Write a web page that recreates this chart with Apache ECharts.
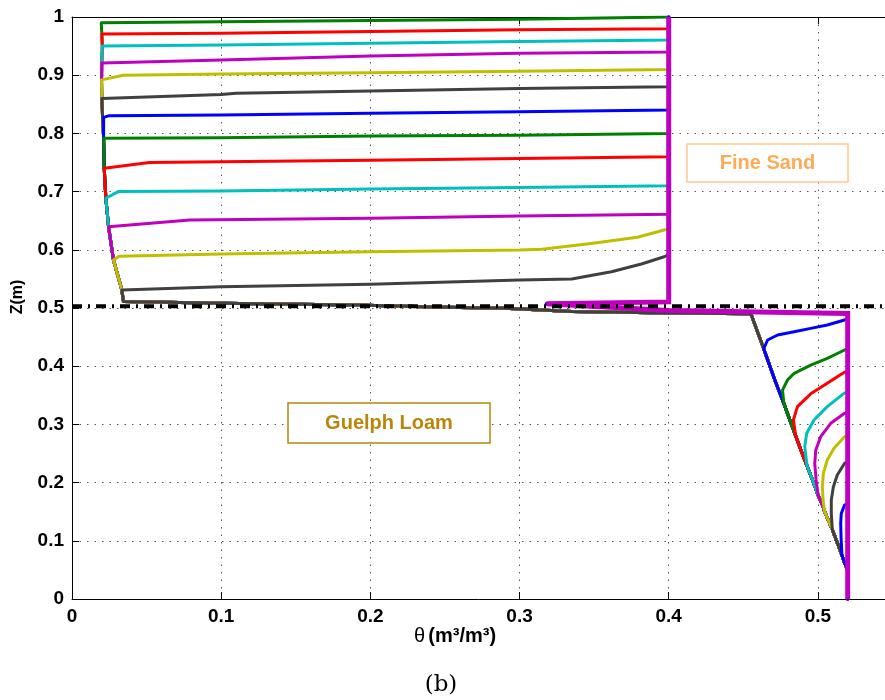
<!DOCTYPE html>
<html><head><meta charset="utf-8">
<script src="https://cdn.jsdelivr.net/npm/echarts@6/dist/echarts.min.js"></script>
<style>html,body{margin:0;padding:0;background:#fff}#c{width:885px;height:700px}</style>
</head><body><div id="c"></div>
<script>
// ---------- axes ----------
const xMin = 0, xMax = 0.545, yMin = 0, yMax = 1, tickStep = 0.1;
const interfaceLevel = 0.503;           // dash-dot layer boundary (m)

// ---------- colours (MATLAB cycle) ----------
const sandColors = ['#008000','#ff0000','#00bfbf','#bf00bf','#bfbf00','#404040','#0000ff',
                    '#008000','#ff0000','#00bfbf','#bf00bf','#bfbf00','#404040'];
const loamColors = ['#0000ff','#008000','#ff0000','#00bfbf','#bf00bf','#bfbf00','#404040','#0000ff'];
const finalColor = '#bf00bf';

// ---------- shared profile pieces [theta, z] ----------
const sandEnvelope = [[0.0196,0.990],[0.0200,0.971],[0.0203,0.950],[0.0200,0.921],[0.0198,0.892],
  [0.0200,0.860],[0.0205,0.828],[0.0212,0.7915],[0.0216,0.740],[0.0227,0.6885],[0.0245,0.6397],
  [0.0278,0.5825],[0.0334,0.531],[0.0345,0.511]];
const interfaceEdge = [[0.1,0.508],[0.19,0.505],[0.25,0.5015],[0.29,0.4995],[0.335,0.494],
  [0.4,0.4915],[0.4551,0.4900]];
const loamEnvelope = [[0.4637,0.430],[0.4712,0.376],[0.4772,0.336],[0.482,0.302],[0.4895,0.250],
  [0.4928,0.228],[0.4965,0.204],[0.5002,0.178],[0.5035,0.159],[0.5045,0.150],[0.5097,0.119],
  [0.514,0.090],[0.5161,0.075],[0.518,0.0613],[0.52,0.050],[0.52,0.0]];
const finalProfile = [[0.4,1.0],[0.4,0.5105],[0.318,0.5075],[0.40,0.4955],[0.52,0.4905],[0.52,0.0]];

// ---------- wetting fronts in the fine sand [theta, z] ----------
const sandFront01 = [[0.4,0.998],[0.3,0.996],[0.2,0.994],[0.1,0.992],[0.0196,0.990]];
const sandFront02 = [[0.4,0.980],[0.3,0.978],[0.2,0.975],[0.1,0.972],[0.0200,0.971]];
const sandFront03 = [[0.4,0.9605],[0.3,0.958],[0.2,0.955],[0.1,0.952],[0.0203,0.950]];
const sandFront04 = [[0.4,0.940],[0.3,0.9376],[0.2,0.933],[0.1,0.926],[0.0200,0.921]];
const sandFront05 = [[0.4,0.910],[0.3,0.907],[0.2,0.904],[0.1,0.902],[0.0343,0.900],[0.0198,0.892]];
const sandFront06 = [[0.4,0.880],[0.3,0.877],[0.2,0.873],[0.11,0.869],[0.1,0.867],[0.0200,0.860]];
const sandFront07 = [[0.4,0.840],[0.3,0.837],[0.2,0.8345],[0.1,0.8316],[0.025,0.8305],[0.0212,0.8276]];
const sandFront08 = [[0.4,0.800],[0.3,0.797],[0.2,0.7955],[0.1,0.7927],[0.0212,0.7915]];
const sandFront09 = [[0.4,0.760],[0.3,0.757],[0.2,0.754],[0.1,0.7514],[0.052,0.750],[0.0216,0.740]];
const sandFront10 = [[0.4,0.710],[0.3,0.707],[0.2,0.7045],[0.1,0.701],[0.031,0.700],[0.0227,0.6885]];
const sandFront11 = [[0.4,0.661],[0.3,0.658],[0.2,0.654],[0.079,0.651],[0.0245,0.6397]];
const sandFront12 = [[0.4,0.636],[0.397,0.634],[0.379,0.6215],[0.348,0.611],[0.315,0.601],[0.3,0.5997],
  [0.2,0.5968],[0.1,0.5928],[0.0316,0.589],[0.0278,0.5825]];
const sandFront13 = [[0.4,0.592],[0.397,0.588],[0.3817,0.5756],[0.3616,0.5624],[0.335,0.5498],[0.3,0.548],
  [0.2,0.541],[0.1,0.5366],[0.0334,0.531]];

// ---------- wetting fronts in the Guelph loam [theta, z] ----------
const loamFront01 = [[0.52,0.481],[0.5179,0.4794],[0.5063,0.4708],[0.4952,0.465],[0.4841,0.4593],
  [0.473,0.4536],[0.4663,0.445],[0.4637,0.430]];
const loamFront02 = [[0.52,0.429],[0.5179,0.4278],[0.5063,0.4135],[0.4952,0.402],[0.4841,0.3878],
  [0.4796,0.376],[0.4763,0.359],[0.4772,0.336]];
const loamFront03 = [[0.52,0.391],[0.5179,0.3895],[0.513,0.382],[0.5063,0.3706],[0.4952,0.3525],
  [0.4863,0.3305],[0.4836,0.3076],[0.4852,0.279],[0.4895,0.250]];
const loamFront04 = [[0.52,0.356],[0.5175,0.3534],[0.5063,0.3305],[0.4974,0.3076],[0.4925,0.2847],
  [0.4912,0.2617],[0.4928,0.228]];
const loamFront05 = [[0.52,0.321],[0.5179,0.319],[0.5086,0.3019],[0.5019,0.2789],[0.4986,0.256],
  [0.4979,0.2332],[0.4988,0.205],[0.5002,0.178]];
const loamFront06 = [[0.52,0.281],[0.5179,0.2789],[0.5108,0.2589],[0.5063,0.2388],[0.5037,0.216],
  [0.503,0.193],[0.5035,0.170],[0.5045,0.150]];
const loamFront07 = [[0.52,0.236],[0.5179,0.2332],[0.513,0.213],[0.5104,0.193],[0.509,0.170],
  [0.509,0.147],[0.5097,0.119]];
const loamFront08 = [[0.52,0.164],[0.5179,0.1615],[0.5157,0.147],[0.5153,0.130],[0.5155,0.110],
  [0.5161,0.075]];

const sandFronts = [sandFront01,sandFront02,sandFront03,sandFront04,sandFront05,sandFront06,sandFront07,
  sandFront08,sandFront09,sandFront10,sandFront11,sandFront12,sandFront13];
const loamFronts = [loamFront01,loamFront02,loamFront03,loamFront04,loamFront05,loamFront06,loamFront07,loamFront08];

// ---------- build full profiles ----------
function below(list, z) { return list.filter(p => p[1] < z - 1e-4); }
function sandProfile(front) {
  const zf = front[front.length - 1][1];
  return [[0.4, 1.0]].concat(front, below(sandEnvelope, zf), interfaceEdge, loamEnvelope);
}
function loamProfile(front) {
  const zf = front[front.length - 1][1];
  return finalProfile.slice(0, 5).concat(front, below(loamEnvelope, zf));
}

const series = [];
sandFronts.forEach((f, i) => series.push({
  type: 'line', data: sandProfile(f), symbol: 'none', lineStyle: {color: sandColors[i], width: 3, join: 'round', cap: 'round'},
  z: 2, animation: false
}));
loamFronts.forEach((f, i) => series.push({
  type: 'line', data: loamProfile(f), symbol: 'none', lineStyle: {color: loamColors[i], width: 3, join: 'round', cap: 'round'},
  z: 2, animation: false
}));
series.push({type: 'line', data: finalProfile, symbol: 'none',
  lineStyle: {color: finalColor, width: 5, join: 'miter'}, z: 3, animation: false});
series.push({type: 'line', data: [[xMin, interfaceLevel], [xMax, interfaceLevel]], symbol: 'none',
  lineStyle: {color: '#000', width: 4, type: [10, 6, 2, 6], cap: 'butt'}, z: 4, animation: false});

const FAM = 'Liberation Sans';
const labelFont = {fontFamily: FAM, fontWeight: 'bold', fontSize: 19, color: '#000'};
const fmt = v => (v === 0 ? '0' : v === 1 ? '1' : v.toFixed(1));
const dotted = {show: true, lineStyle: {color: '#555', width: 1, type: [1.5, 6]}};

const chart = echarts.init(document.getElementById('c'), null, {renderer: 'canvas'});
chart.setOption({
  backgroundColor: '#fff',
  animation: false,
  grid: {left: 72, top: 17, right: -3, bottom: 101, containLabel: false},
  xAxis: [{
    type: 'value', min: xMin, max: xMax, interval: tickStep, position: 'bottom',
    axisLine: {show: true, lineStyle: {color: '#000', width: 1}},
    axisTick: {show: true, inside: true, length: 7, lineStyle: {color: '#000'}},
    axisLabel: Object.assign({margin: 8, formatter: fmt, showMaxLabel: false}, labelFont),
    splitLine: dotted
  }, {
    type: 'value', min: xMin, max: xMax, interval: tickStep, position: 'top',
    axisLine: {show: true, lineStyle: {color: '#000', width: 1}},
    axisTick: {show: true, inside: true, length: 7, lineStyle: {color: '#000'}},
    axisLabel: {show: false}, splitLine: {show: false}
  }],
  yAxis: {
    type: 'value', min: yMin, max: yMax, interval: tickStep,
    axisLine: {show: true, lineStyle: {color: '#000', width: 1}},
    axisTick: {show: true, inside: true, length: 7, lineStyle: {color: '#000'}},
    axisLabel: Object.assign({margin: 8, formatter: fmt}, labelFont),
    splitLine: dotted
  },
  series: series,
  graphic: [
    {type: 'rect', shape: {x: 687, y: 144, width: 161, height: 38}, style: {fill: '#fff', stroke: '#ffc890', lineWidth: 1.5}, z: 10},
    {type: 'text', x: 767.5, y: 163, style: {text: 'Fine Sand', fill: '#ffaa55', fontFamily: FAM, fontWeight: 'bold', fontSize: 20, align: 'center', verticalAlign: 'middle'}, z: 11},
    {type: 'rect', shape: {x: 288, y: 403, width: 202, height: 40}, style: {fill: '#fff', stroke: '#b8860b', lineWidth: 1.5}, z: 10},
    {type: 'text', x: 389, y: 423, style: {text: 'Guelph Loam', fill: '#b8860b', fontFamily: FAM, fontWeight: 'bold', fontSize: 20, align: 'center', verticalAlign: 'middle'}, z: 11},
    {type: 'text', x: 18, y: 297, rotation: Math.PI / 2, style: {text: 'Z(m)', fill: '#000', fontFamily: FAM, fontWeight: 'bold', fontSize: 16, align: 'center', verticalAlign: 'middle'}, z: 11},
    {type: 'text', x: 455, y: 636, style: {text: '{t|θ} {b|(m³/m³)}', align: 'center', verticalAlign: 'middle',
      rich: {t: {fontFamily: FAM, fontSize: 20, fill: '#000'}, b: {fontFamily: FAM, fontWeight: 'bold', fontSize: 20, fill: '#000'}}}, z: 11},
    {type: 'text', x: 441, y: 685, style: {text: '(b)', fill: '#000', fontFamily: 'DejaVu Serif', fontSize: 23, align: 'center', verticalAlign: 'middle'}, z: 11}
  ]
});
</script></body></html>
